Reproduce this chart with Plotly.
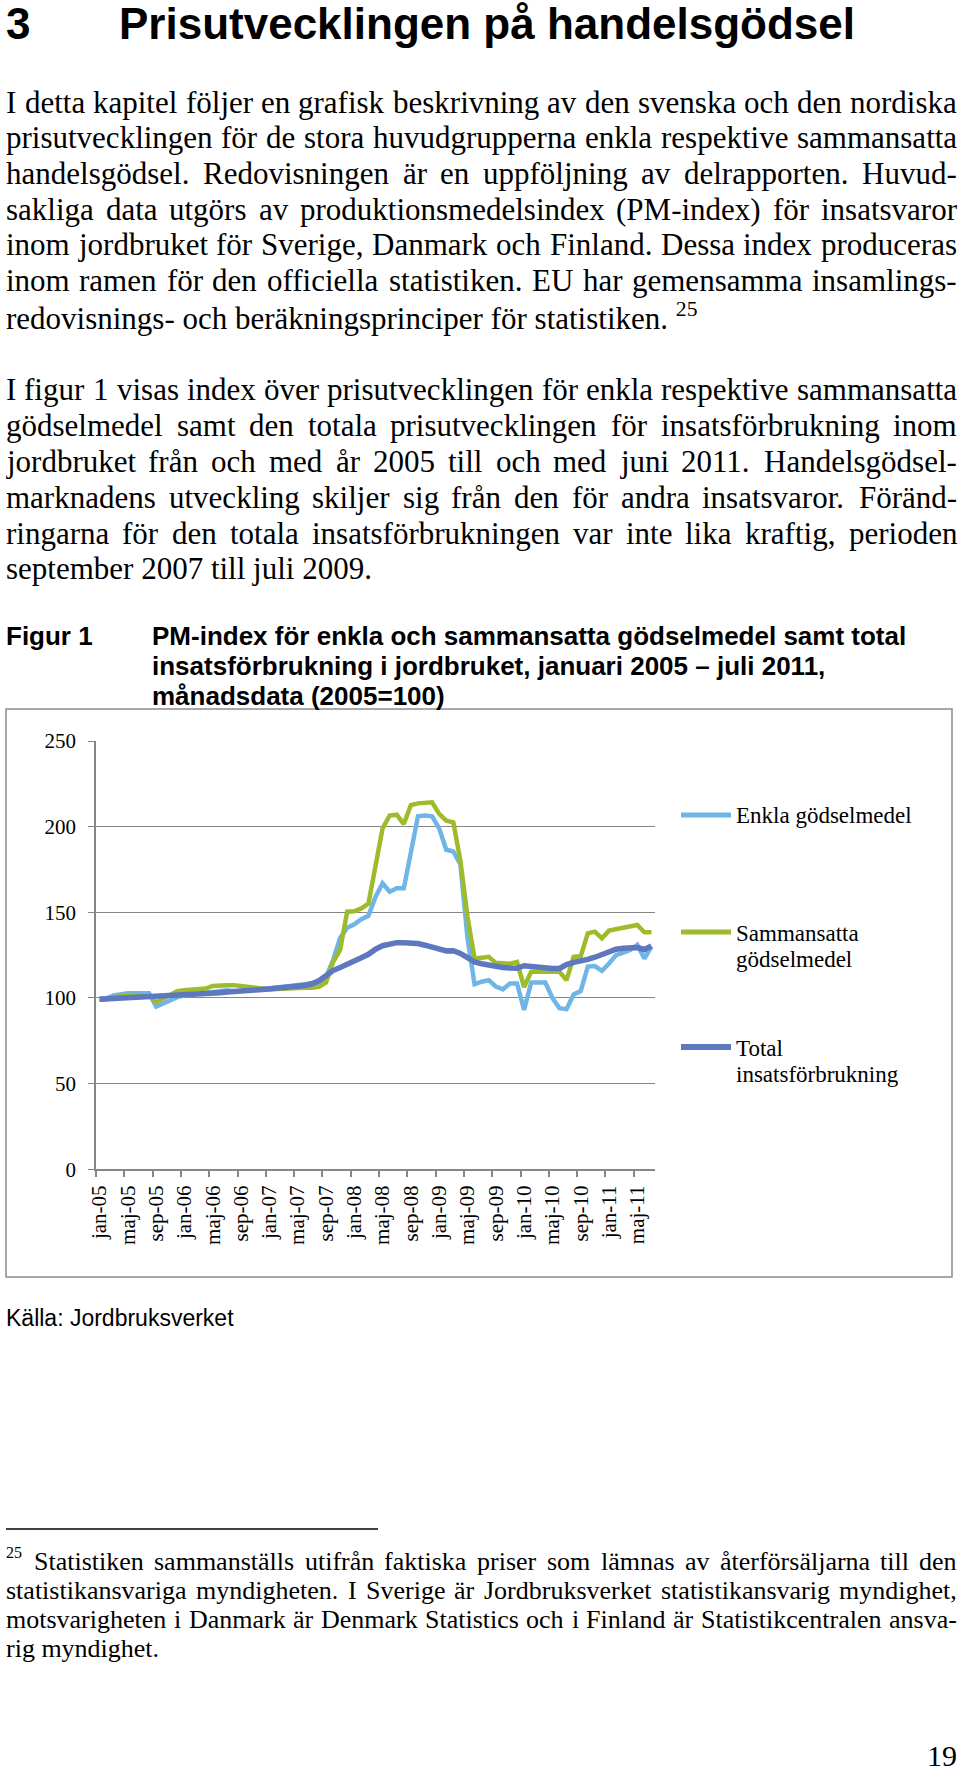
import plotly.graph_objects as go

W, H = 960, 1771

# ---------------- data ----------------
month_names = ["jan", "feb", "mar", "apr", "maj", "jun", "jul", "aug", "sep", "okt", "nov", "dec"]
years = ["05", "06", "07", "08", "09", "10", "11"]
months = [f"{m}-{y}" for y in years for m in month_names][:79]  # jan-05 .. jul-11

enkla = [
    99.5, 99.8, 101.5, 102.3, 102.7, 102.8, 102.8, 102.8, 95.0, 97.0, 99.0, 100.5,
    101.5, 102.0, 102.5, 103.0, 103.5, 104.0, 104.5, 103.8, 104.3, 104.8, 105.0, 105.3,
    105.5, 106.0, 106.5, 107.0, 107.0, 107.5, 108.0, 109.0, 112.0, 122.0, 135.0, 141.0,
    143.0, 146.0, 148.0, 159.0, 167.0, 162.0, 164.0, 164.0, 185.0, 206.0, 206.5, 206.0,
    199.0, 186.5, 185.5, 178.0, 135.0, 108.0, 109.5, 110.4, 106.7, 105.0, 108.5, 108.5,
    93.0, 109.0, 109.0, 109.0, 100.0, 94.0, 93.5, 102.0, 104.0, 118.3, 118.6, 115.8,
    120.1, 125.0, 126.5, 128.0, 131.0, 123.0, 130.0,
]
sammansatta = [
    99.0, 99.2, 100.5, 101.3, 101.5, 101.8, 101.8, 101.5, 97.5, 99.5, 102.0, 104.0,
    104.5, 105.0, 105.0, 105.5, 107.0, 107.5, 107.5, 107.5, 107.0, 106.0, 105.5, 105.0,
    105.0, 105.2, 105.5, 106.0, 106.0, 106.0, 106.0, 106.5, 109.0, 121.0, 128.0, 150.4,
    150.6, 152.3, 155.0, 177.0, 199.0, 206.5, 207.0, 201.5, 212.6, 213.6, 214.0, 214.2,
    207.5, 203.5, 202.5, 180.0, 147.5, 123.0, 123.5, 124.0, 120.5, 120.2, 120.0, 121.0,
    106.4, 115.3, 115.3, 115.3, 115.3, 115.3, 110.4, 124.0, 124.3, 137.7, 138.7, 134.8,
    139.3, 140.0, 141.2, 142.0, 142.6, 138.3, 138.3,
]
total = [
    99.2, 99.4, 99.6, 99.9, 100.1, 100.3, 100.4, 100.5, 100.7, 101.0, 101.2, 101.5,
    101.8, 102.0, 102.2, 102.4, 102.7, 103.0, 103.5, 104.0, 104.2, 104.4, 104.7, 105.0,
    105.3, 105.5, 105.8, 106.3, 106.8, 107.3, 108.3, 110.0, 113.0, 116.0, 117.8, 120.0,
    122.0, 123.5, 125.5, 128.5, 130.5, 131.5, 132.3, 132.3, 132.2, 131.8, 130.8, 129.8,
    128.5, 127.5, 127.6, 126.0, 123.5, 121.0, 120.0, 119.0, 118.5, 117.8, 117.5, 117.3,
    118.8, 118.3, 117.8, 117.3, 117.2, 117.2, 119.5, 120.8, 121.5, 122.5, 123.8, 125.5,
    127.3, 128.5, 129.0, 129.3, 129.4, 128.3, 130.3,
]
series_names = ["Enkla gödselmedel", "Sammansatta<br>gödselmedel", "Total<br>insatsförbrukning"]
series_colors = ["#6FB5E6", "#9DBB2B", "#5E78C0"]
series_widths = [4.5, 4.5, 5.5]
y_ticks = [0, 50, 100, 150, 200, 250]

# ---------------- page text ----------------
heading_num = "3"
heading = "Prisutvecklingen på handelsgödsel"
para1 = [
    "I detta kapitel följer en grafisk beskrivning av den svenska och den nordiska",
    "prisutvecklingen för de stora huvudgrupperna enkla respektive sammansatta",
    "handelsgödsel. Redovisningen är en uppföljning av delrapporten. Huvud-",
    "sakliga data utgörs av produktionsmedelsindex (PM-index) för insatsvaror",
    "inom jordbruket för Sverige, Danmark och Finland. Dessa index produceras",
    "inom ramen för den officiella statistiken. EU har gemensamma insamlings-",
    "redovisnings- och beräkningsprinciper för statistiken. <sup>25</sup>",
]
para2 = [
    "I figur 1 visas index över prisutvecklingen för enkla respektive sammansatta",
    "gödselmedel samt den totala prisutvecklingen för insatsförbrukning inom",
    "jordbruket från och med år 2005 till och med juni 2011. Handelsgödsel-",
    "marknadens utveckling skiljer sig från den för andra insatsvaror. Föränd-",
    "ringarna för den totala insatsförbrukningen var inte lika kraftig, perioden",
    "september 2007 till juli 2009.",
]
fig_label = "Figur 1"
fig_title = [
    "PM-index för enkla och sammansatta gödselmedel samt total",
    "insatsförbrukning i jordbruket, januari 2005 – juli 2011,",
    "månadsdata (2005=100)",
]
source = "Källa: Jordbruksverket"
footnote = [
    "Statistiken sammanställs utifrån faktiska priser som lämnas av återförsäljarna till den",
    "statistikansvariga myndigheten. I Sverige är Jordbruksverket statistikansvarig myndighet,",
    "motsvarigheten i Danmark är Denmark Statistics och i Finland är Statistikcentralen ansva-",
    "rig myndighet.",
]
page_no = "19"

SERIF = "Liberation Serif, Times New Roman, serif"
SANS = "Liberation Sans, Arial, sans-serif"

# Times New Roman advance widths (1/1000 em)
TW = {" ": 250, "!": 333, "(": 333, ")": 333, ",": 250, "-": 333, ".": 250, ":": 278, "=": 564,
      "A": 722, "B": 667, "C": 667, "D": 722, "E": 611, "F": 556, "G": 722, "H": 722, "I": 333,
      "J": 389, "K": 722, "L": 611, "M": 889, "N": 722, "O": 722, "P": 556, "Q": 722, "R": 667,
      "S": 556, "T": 611, "U": 722, "V": 722, "W": 944, "X": 722, "Y": 722, "Z": 611,
      "a": 444, "b": 500, "c": 444, "d": 500, "e": 444, "f": 333, "g": 500, "h": 500, "i": 278,
      "j": 278, "k": 500, "l": 278, "m": 778, "n": 500, "o": 500, "p": 500, "q": 500, "r": 333,
      "s": 389, "t": 278, "u": 500, "v": 500, "w": 722, "x": 500, "y": 500, "z": 444,
      "å": 444, "ä": 444, "ö": 500, "Å": 722, "Ä": 722, "Ö": 722}
for d in "0123456789":
    TW[d] = 500


def tw(s, size):
    return sum(TW.get(c, 500) for c in s) * size / 1000.0


annotations = []
shapes = []


def px(x):
    return x / W


def py(y):
    return 1 - y / H


def add_text(text, x, y, size, family=SERIF, bold=False, xanchor="left", color="black"):
    annotations.append(dict(
        text=f"<b>{text}</b>" if bold else text, x=px(x), y=py(y), xref="paper", yref="paper",
        xanchor=xanchor, yanchor="middle", showarrow=False, borderpad=0, borderwidth=0,
        font=dict(family=family, size=size, color=color), align="left"))


def put_line(text, y, size, x0, x1, justify):
    if not justify:
        add_text(text, x0, y, size)
        return
    words = text.split(" ")
    natural = sum(tw(w, size) for w in words)
    gap = (x1 - x0 - natural) / (len(words) - 1)
    x = x0
    for w in words:
        add_text(w, x, y, size)
        x += tw(w, size) + gap


BODY = 31
LS = 35.75
TXT_L, TXT_R = 6, 957

# heading
add_text(heading_num, 6, 24, 44, family=SANS, bold=True)
add_text(heading, 119, 24, 44, family=SANS, bold=True)

for k, line in enumerate(para1):
    put_line(line, 102 + k * LS, BODY, TXT_L, TXT_R, k < len(para1) - 1)
for k, line in enumerate(para2):
    put_line(line, 390 + k * LS, BODY, TXT_L, TXT_R, k < len(para2) - 1)

# figure caption
add_text(fig_label, 6, 636, 26, family=SANS, bold=True)
for k, line in enumerate(fig_title):
    add_text(line, 152, 636 + k * 30, 26, family=SANS, bold=True)

# source
add_text(source, 6, 1318, 23, family=SANS)

# footnote
FN = 26
add_text("25", 6, 1552, 16)
for k, line in enumerate(footnote):
    x0 = 34 if k == 0 else TXT_L
    put_line(line, 1561 + k * 29, FN, x0, TXT_R, k < len(footnote) - 1)
shapes.append(dict(type="line", xref="paper", yref="paper", x0=px(6), x1=px(378),
                   y0=py(1529), y1=py(1529), line=dict(color="black", width=1.5)))

# page number
add_text(page_no, 957, 1755, 30, xanchor="right")

# chart frame
shapes.append(dict(type="rect", xref="paper", yref="paper", x0=px(6), x1=px(952),
                   y0=py(1277), y1=py(709), line=dict(color="#8C8C8C", width=1.5),
                   fillcolor="rgba(0,0,0,0)", layer="below"))

# legend (drawn manually, Excel-like placement)
leg_y = [815, 932, 1047]
for name, col, wd, ly in zip(series_names, series_colors, series_widths, leg_y):
    shapes.append(dict(type="line", xref="paper", yref="paper", x0=px(681), x1=px(731),
                       y0=py(ly), y1=py(ly), line=dict(color=col, width=wd + 0.5)))
    parts = name.split("<br>")
    for j, p in enumerate(parts):
        add_text(p, 736, ly + 1 + j * 26, 23)

# ---------------- chart ----------------
x_idx = list(range(len(months)))
fig = go.Figure()
for name, col, wd, vals in zip(series_names, series_colors, series_widths,
                               [enkla, sammansatta, total]):
    fig.add_trace(go.Scatter(x=x_idx, y=vals, mode="lines", name=name.replace("<br>", " "),
                             line=dict(color=col, width=wd), hoverinfo="x+y",
                             text=months))

PL, PR = 96, 655
Y0, Y250 = 1169.3, 741.0
GRAY = "#868686"

fig.update_layout(
    width=W, height=H, margin=dict(l=0, r=0, t=0, b=0, autoexpand=False),
    paper_bgcolor="white", plot_bgcolor="white", showlegend=False,
    annotations=annotations, shapes=shapes,
    xaxis=dict(domain=[PL / W, PR / W], range=[-0.5, len(months) - 0.5],
               tickmode="array", tickvals=x_idx[::4], ticktext=months[::4],
               tickangle=-90, ticks="", showgrid=False, zeroline=False,
               showline=True, linecolor=GRAY, linewidth=1.5, automargin=False,
               tickfont=dict(family=SERIF, size=21, color="black"),
               ticklabelstandoff=6,
               minor=dict(ticks="outside", tickmode="linear", tick0=-0.5, dtick=4,
                          ticklen=6, tickcolor=GRAY, tickwidth=1.5, showgrid=False)),
    yaxis=dict(domain=[1 - Y0 / H, 1 - Y250 / H], range=[0, 250],
               tickmode="array", tickvals=y_ticks, automargin=False,
               showgrid=True, gridcolor=GRAY, gridwidth=1.3, zeroline=False,
               showline=True, linecolor=GRAY, linewidth=1.5,
               ticks="outside", ticklen=6, tickcolor=GRAY, tickwidth=1.3,
               tickfont=dict(family=SERIF, size=21, color="black"),
               ticklabelstandoff=8),
)

fig.write_html("out.html", config={"displayModeBar": False},
               post_script="document.body.style.margin='0';document.body.style.overflow='hidden';")
